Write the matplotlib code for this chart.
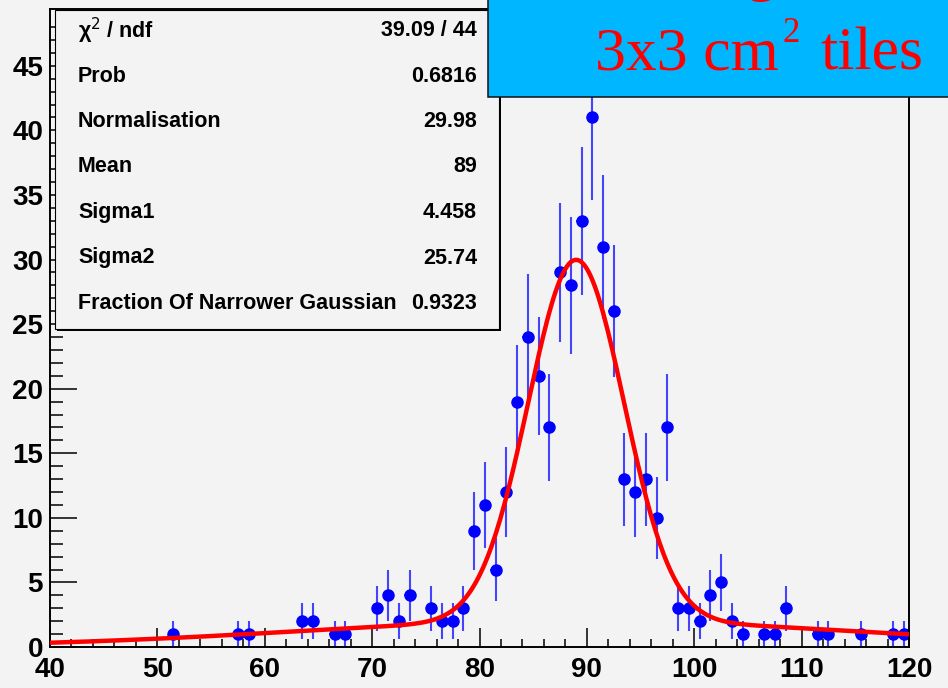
import numpy as np
import matplotlib
matplotlib.use("Agg")
import matplotlib.pyplot as plt
from matplotlib.patches import Rectangle

# histogram contents (1 GeV bins, only non-empty bins listed)
bin_centers = [51.5, 57.5, 58.5, 63.5, 64.5, 66.5, 67.5, 70.5, 71.5, 72.5,
               73.5, 75.5, 76.5, 77.5, 78.5, 79.5, 80.5, 81.5, 82.5, 83.5,
               84.5, 85.5, 86.5, 87.5, 88.5, 89.5, 90.5, 91.5, 92.5, 93.5,
               94.5, 95.5, 96.5, 97.5, 98.5, 99.5, 100.5, 101.5, 102.5, 103.5,
               104.5, 106.5, 107.5, 108.5, 111.5, 112.5, 115.5, 118.5, 119.5]
counts = [1, 1, 1, 2, 2, 1, 1, 3, 4, 2,
          4, 3, 2, 2, 3, 9, 11, 6, 12, 19,
          24, 21, 17, 29, 28, 33, 41, 31, 26, 13,
          12, 13, 10, 17, 3, 3, 2, 4, 5, 2,
          1, 1, 1, 3, 1, 1, 1, 1, 1]

# fit results
chi2, ndf = 39.09, 44
prob = 0.6816
norm = 29.98
mean = 89
sigma1 = 4.458
sigma2 = 25.74
frac = 0.9323

stat_labels = ["χ$^{2}$ / ndf", "Prob", "Normalisation", "Mean",
               "Sigma1", "Sigma2", "Fraction Of Narrower Gaussian"]
stat_values = ["%.2f / %d" % (chi2, ndf), "%.4f" % prob, "%.2f" % norm,
               "%g" % mean, "%.3f" % sigma1, "%.2f" % sigma2, "%.4f" % frac]

W, H = 948, 688
bg = "#f3f3f3"


def fx(x):
    return x / W


def fy(y):
    return 1 - y / H


fig = plt.figure(figsize=(W / 100, H / 100), dpi=100, facecolor=bg)
ax = fig.add_axes([fx(50), fy(647), fx(909) - fx(50), fy(9) - fy(647)])
ax.set_facecolor(bg)

x = np.array(bin_centers)
y = np.array(counts)
ax.errorbar(x, y, yerr=np.sqrt(y), xerr=0.5, fmt="o", color="#0000ff",
            ecolor="#4444ff", elinewidth=1.5, markersize=8, capsize=0, zorder=2)

# double gaussian fit
xf = np.linspace(40, 120, 400)
yf = norm * (frac * np.exp(-0.5 * ((xf - mean) / sigma1) ** 2)
             + (1 - frac) * np.exp(-0.5 * ((xf - mean) / sigma2) ** 2))
ax.plot(xf, yf, color="#ff0000", linewidth=3.2, zorder=3)

ax.set_xlim(40, 120)
ax.set_ylim(0, 49.4)
ax.set_xticks(np.arange(40, 121, 10))
ax.set_xticks(np.arange(40, 121, 2), minor=True)
ax.set_yticks(np.arange(0, 46, 5))
ax.set_yticks(np.arange(0, 49, 1), minor=True)

for lab in ax.get_xticklabels() + ax.get_yticklabels():
    lab.set_family("Liberation Sans")
    lab.set_fontweight("bold")
    lab.set_fontsize(20)

ax.tick_params(axis="both", which="both", direction="in", top=False,
               right=False, width=1.1, color="black")
ax.tick_params(axis="x", which="major", length=13.7, pad=7)
ax.tick_params(axis="x", which="minor", length=5.8)
ax.tick_params(axis="y", which="major", length=19.4, pad=5)
ax.tick_params(axis="y", which="minor", length=9.4)
for sp in ax.spines.values():
    sp.set_linewidth(1.4)

# stats box with shadow
fig.patches.append(Rectangle((fx(57), fy(331)), fx(444), 319 / H,
                             transform=fig.transFigure, facecolor="black",
                             edgecolor="none", zorder=5))
fig.patches.append(Rectangle((fx(55), fy(329)), fx(444), 319 / H,
                             transform=fig.transFigure, facecolor=bg,
                             edgecolor="black", linewidth=0.8, zorder=6))
for i, (lab, val) in enumerate(zip(stat_labels, stat_values)):
    yy = fy(30.5 + i * 45.5)
    fig.text(fx(78), yy, lab, ha="left", va="center", fontsize=15.5,
             fontweight="bold", family="Liberation Sans", zorder=7)
    fig.text(fx(477), yy, val, ha="right", va="center", fontsize=15.5,
             fontweight="bold", family="Liberation Sans", zorder=7)

# title box
fig.patches.append(Rectangle((fx(488), fy(97)), fx(470), 110 / H,
                             transform=fig.transFigure, facecolor="#00b7ff",
                             edgecolor="#111111", linewidth=1.1, zorder=8))
serif = "Liberation Serif"
fig.text(fx(761), fy(-11), "g", ha="center", va="baseline", fontsize=44.6,
         color="#ff0000", family=serif, zorder=9)
fig.text(fx(595), fy(69), "3x3 cm", ha="left", va="baseline", fontsize=44.6,
         color="#ff0000", family=serif, zorder=9)
fig.text(fx(782), fy(42), "2", ha="left", va="baseline", fontsize=25,
         color="#ff0000", family=serif, zorder=9)
fig.text(fx(820), fy(69), "tiles", ha="left", va="baseline", fontsize=44.6,
         color="#ff0000", family=serif, zorder=9)

fig.savefig("out.png", dpi=100, facecolor=bg)
